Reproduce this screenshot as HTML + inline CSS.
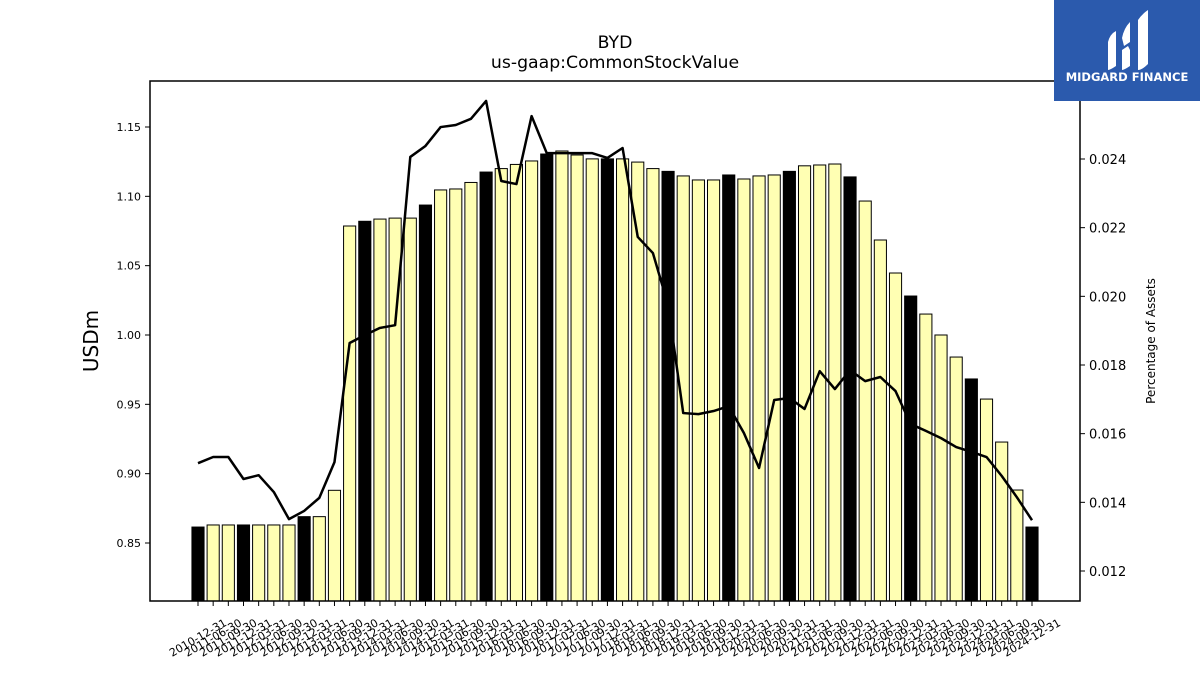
<!DOCTYPE html>
<html><head><meta charset="utf-8"><style>
body{margin:0;background:#fff;}
svg text{font-family:"DejaVu Sans","Liberation Sans",sans-serif;}
</style></head><body>
<svg id="chart" width="1200" height="675" viewBox="0 0 1200 675" xmlns="http://www.w3.org/2000/svg">
<rect width="1200" height="675" fill="#fff"/>
<text x="615" y="48" font-size="17.3" text-anchor="middle">BYD</text>
<text x="615" y="68" font-size="17.3" text-anchor="middle">us-gaap:CommonStockValue</text>
<g id="bars"></g>
<g id="line"></g>
<rect x="150" y="81" width="930" height="520" fill="none" stroke="#000" stroke-width="1.5"/>
<g id="xaxis"></g>
<g id="yleft"></g>
<g id="yright"></g>
<text transform="translate(98,341) rotate(-90)" font-size="20" text-anchor="middle">USDm</text>
<text transform="translate(1155,341) rotate(-90)" font-size="12" text-anchor="middle">Percentage of Assets</text>
<g>
<rect x="1054" y="0" width="146" height="101" fill="#2b5aad"/>
<path d="M1108 42 Q1110 34 1116 31 L1116 66 Q1110 70 1108 70 Z" fill="#fff"/>
<path d="M1122 38 Q1124 28 1130 22 L1130 42 L1124 46 Z M1122 50 L1128 46 L1130 50 L1130 66 Q1124 70 1122 70 Z" fill="#fff"/>
<path d="M1138 20 Q1142 14 1148 10 L1148 64 Q1142 70 1138 70 Z" fill="#fff"/>
<text x="1127" y="81" font-size="11.5" font-weight="bold" fill="#fff" text-anchor="middle" font-family="Liberation Sans, sans-serif">MIDGARD FINANCE</text>
</g>
</svg>
<script>
const categories=["2010-12-31","2011-06-30","2011-09-30","2011-12-31","2012-03-31","2012-06-30","2012-09-30","2012-12-31","2013-03-31","2013-06-30","2013-09-30","2013-12-31","2014-03-31","2014-06-30","2014-09-30","2014-12-31","2015-03-31","2015-06-30","2015-09-30","2015-12-31","2016-03-31","2016-06-30","2016-09-30","2016-12-31","2017-03-31","2017-06-30","2017-09-30","2017-12-31","2018-03-31","2018-06-30","2018-09-30","2018-12-31","2019-03-31","2019-06-30","2019-09-30","2019-12-31","2020-03-31","2020-06-30","2020-09-30","2020-12-31","2021-03-31","2021-06-30","2021-09-30","2021-12-31","2022-03-31","2022-06-30","2022-09-30","2022-12-31","2023-03-31","2023-06-30","2023-09-30","2023-12-31","2024-03-31","2024-06-30","2024-09-30","2024-12-31"];
const barValues=[0.8615,0.863,0.863,0.863,0.863,0.863,0.863,0.869,0.869,0.888,1.0786,1.082,1.0836,1.0843,1.0843,1.0937,1.1046,1.1053,1.110,1.1175,1.120,1.123,1.1255,1.1305,1.1327,1.1298,1.127,1.127,1.127,1.1247,1.120,1.118,1.1147,1.1118,1.1118,1.1154,1.1125,1.1147,1.1154,1.118,1.122,1.1226,1.1233,1.114,1.0966,1.0685,1.0447,1.0281,1.0151,1.000,0.9841,0.9683,0.9538,0.9228,0.8882,0.8615];
const pctValues=[0.01514,0.01532,0.01532,0.01468,0.01479,0.0143,0.01351,0.01375,0.01413,0.01517,0.01864,0.01887,0.01908,0.01916,0.02406,0.02438,0.02493,0.02499,0.02517,0.02569,0.02336,0.02327,0.02525,0.02417,0.02417,0.02417,0.02417,0.02403,0.02432,0.02173,0.02126,0.01975,0.0166,0.01657,0.01666,0.0168,0.01602,0.015,0.01698,0.01704,0.01672,0.01782,0.0173,0.01785,0.01753,0.01765,0.01724,0.01628,0.01608,0.01587,0.01561,0.01547,0.01532,0.01477,0.01415,0.01348];
const leftTicks=[0.85,0.90,0.95,1.00,1.05,1.10,1.15];
const rightTicks=[0.012,0.014,0.016,0.018,0.020,0.022,0.024];
const NS="http://www.w3.org/2000/svg";
function mk(t,a,p){const e=document.createElementNS(NS,t);for(const k in a)e.setAttribute(k,a[k]);p.appendChild(e);return e;}
const x0=198,x1=1032,n=categories.length,step=(x1-x0)/(n-1);
function xs(i){return x0+i*step;}
function yl(v){return 543-(v-0.85)*1386.7;}
function yr(v){return 159+(0.024-v)*34333;}
const bars=document.getElementById('bars');
barValues.forEach((v,i)=>{const w=step*0.8;const y=yl(v);
const r=mk('rect',{x:xs(i)-w/2,y:y,width:w,height:601-y,fill:(i%4===3||i===0)?'#000':'#ffffb3',stroke:'#000','stroke-width':1},bars);

});
const line=document.getElementById('line');
const pl=mk('polyline',{points:pctValues.map((v,i)=>xs(i)+','+yr(v)).join(' '),fill:'none',stroke:'#000','stroke-width':2.5,'stroke-linejoin':'round'},line);


const xa=document.getElementById('xaxis');
categories.forEach((c,i)=>{const x=xs(i);mk('line',{x1:x,y1:601,x2:x,y2:606,stroke:'#000'},xa);
const t=mk('text',{transform:`translate(${x},${638}) rotate(-30)`,'font-size':11,'text-anchor':'middle','dominant-baseline':'central'},xa);t.textContent=c;

});
const ya=document.getElementById('yleft');
leftTicks.forEach(v=>{const y=yl(v);mk('line',{x1:145,y1:y,x2:150,y2:y,stroke:'#000'},ya);
const t=mk('text',{x:141,y:y+4,'font-size':11,'text-anchor':'end'},ya);t.textContent=v.toFixed(2);

});
const yb=document.getElementById('yright');
rightTicks.forEach(v=>{const y=yr(v);mk('line',{x1:1080,y1:y,x2:1085,y2:y,stroke:'#000'},yb);
const t=mk('text',{x:1089,y:y+5,'font-size':13},yb);t.textContent=v.toFixed(3);

});
</script>
</body></html>
